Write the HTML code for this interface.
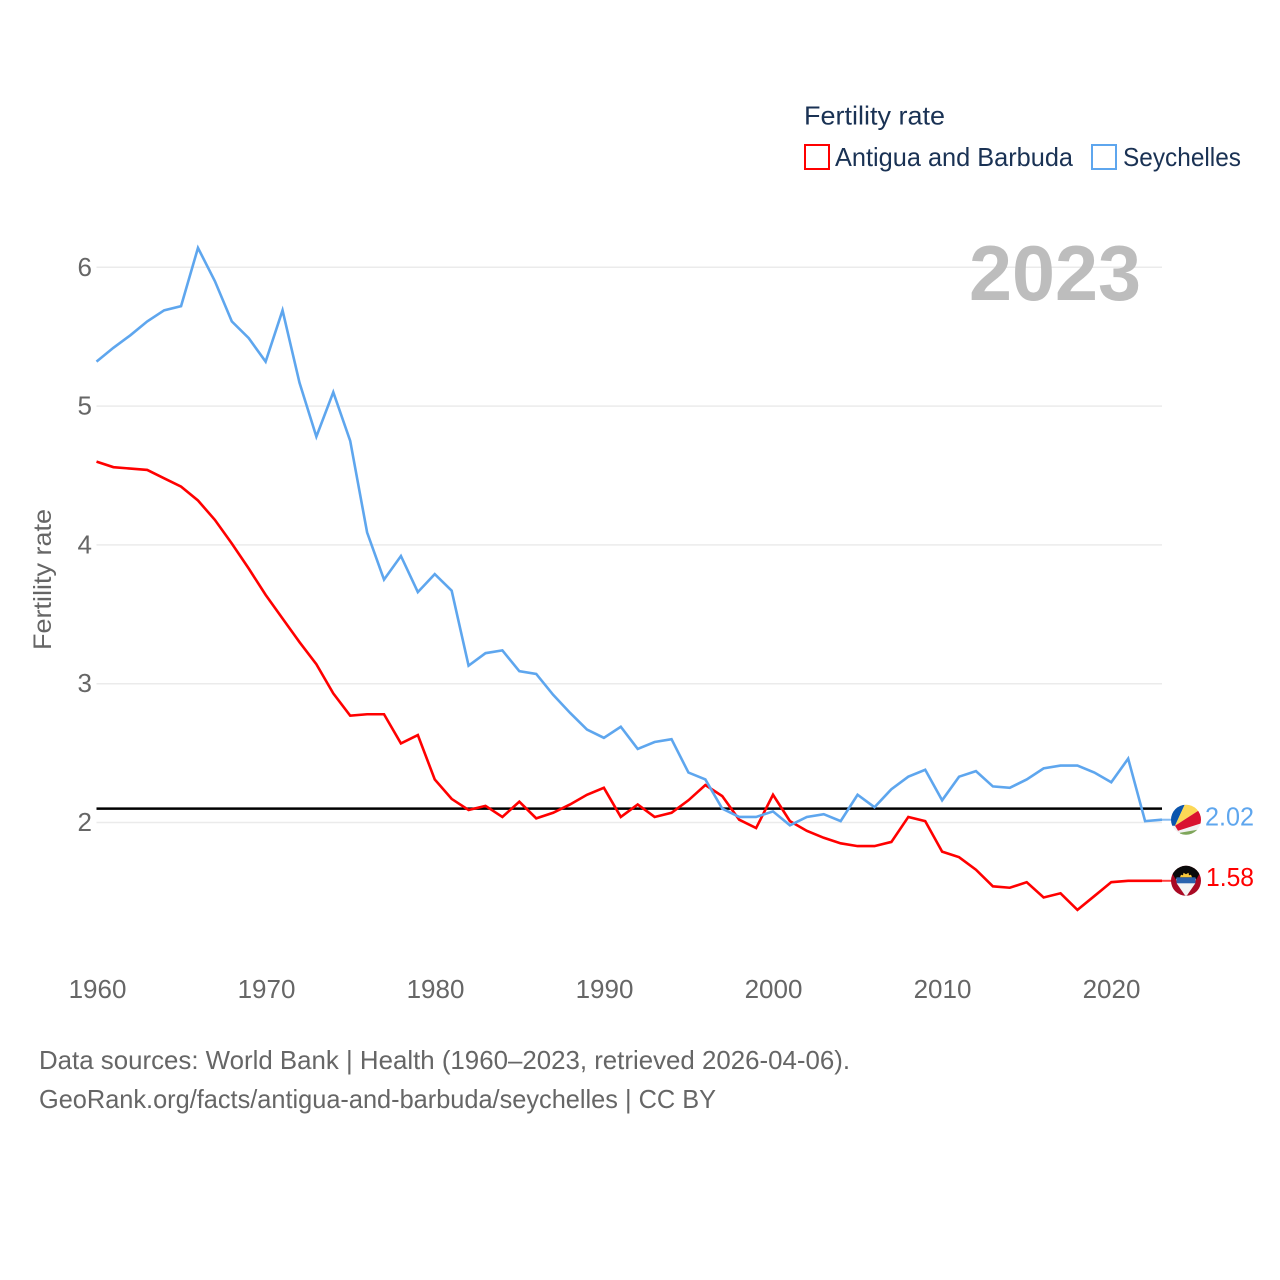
<!DOCTYPE html>
<html lang="en">
<head>
<meta charset="utf-8">
<title>Fertility rate: Antigua and Barbuda vs Seychelles</title>
<style>
html,body{margin:0;padding:0;background:#fff}
svg{display:block;font-family:"Liberation Sans",sans-serif}
</style>
</head>
<body>
<svg id="chart" width="1280" height="1280" viewBox="0 0 1280 1280" xmlns="http://www.w3.org/2000/svg">
  <defs>
    <clipPath id="flag-clip"><circle cx="0" cy="0" r="15"></circle></clipPath>
  </defs>
  <rect x="0" y="0" width="1280" height="1280" fill="#fff"></rect>

  <g id="grid"></g>
  <g id="ytick-labels"></g>
  <g id="xtick-labels"></g>

  <text transform="translate(51,579.5) rotate(-90)" text-anchor="middle" font-size="25" fill="#666" textLength="141" lengthAdjust="spacingAndGlyphs">Fertility rate</text>

  <text x="969" y="300" font-size="78" font-weight="700" fill="#bdbdbd" textLength="172" lengthAdjust="spacingAndGlyphs">2023</text>

  <g>
    <text x="804" y="124.5" font-size="26" fill="#1a3254" textLength="141" lengthAdjust="spacingAndGlyphs">Fertility rate</text>
    <g>
      <rect x="805" y="145" width="24" height="24" fill="#fff" stroke="#ff0000" stroke-width="2"></rect>
      <text x="835" y="166" font-size="26" fill="#1a3254" textLength="238" lengthAdjust="spacingAndGlyphs">Antigua and Barbuda</text>
    </g>
    <g>
      <rect x="1092" y="145" width="24" height="24" fill="#fff" stroke="#5ea6ee" stroke-width="2"></rect>
      <text x="1123" y="166" font-size="26" fill="#1a3254" textLength="118" lengthAdjust="spacingAndGlyphs">Seychelles</text>
    </g>
  </g>

  <line id="refline" stroke="#000" stroke-width="2.5"></line>

  <polyline id="line-antigua" fill="none" stroke="#ff0000" stroke-width="2.6" stroke-linejoin="miter"></polyline>
  <polyline id="line-seychelles" fill="none" stroke="#5ea6ee" stroke-width="2.6" stroke-linejoin="miter"></polyline>

  <line id="conn-seychelles" stroke="#5ea6ee" stroke-width="2" opacity="0.75"></line>
  <line id="conn-antigua" stroke="#ff0000" stroke-width="2" opacity="0.75"></line>

  <g id="flag-seychelles">
    <g clip-path="url(#flag-clip)">
      <rect x="-16" y="-16" width="32" height="32" fill="#f1f1f1"></rect>
      <polygon points="-11,6 -20,6 -20,-20 1,-20" fill="#0b55ad"></polygon>
      <polygon points="-11,6 1,-20 20,-20 20,-14" fill="#fcd856"></polygon>
      <polygon points="-11,6 20,-14 20,2 -8,11" fill="#d9122f"></polygon>
      <polygon points="-6,13 20,8.5 20,20 -6,20" fill="#7ea65a"></polygon>
    </g>
  </g>

  <g id="flag-antigua">
    <g clip-path="url(#flag-clip)">
      <rect x="-16" y="-16" width="32" height="32" fill="#a90a24"></rect>
      <polygon points="-20,-18 20,-18 0,16" fill="#0a0a0a"></polygon>
      <polygon points="-10,-2 10,-2 9,3 0,16 -9,3" fill="#f4f4f4"></polygon>
      <rect x="-9.5" y="-3.5" width="19" height="6" fill="#2a62ad"></rect>
      <path d="M-6,-3.5 L-5,-6 L-3,-5.5 L-2.5,-8 L0,-6.5 L2.5,-8 L3,-5.5 L5,-6 L6,-3.5 Z" fill="#f7c73c"></path>
    </g>
  </g>

  <text id="value-seychelles" x="1205" font-size="26" fill="#5ea6ee" textLength="49" lengthAdjust="spacingAndGlyphs"></text>
  <text id="value-antigua" x="1206" font-size="26" fill="#ff0000" textLength="48" lengthAdjust="spacingAndGlyphs"></text>

  <g>
    <text x="39" y="1069" font-size="26" fill="#666" textLength="811" lengthAdjust="spacingAndGlyphs">Data sources: World Bank | Health (1960–2023, retrieved 2026-04-06).</text>
    <text x="39" y="1108" font-size="26" fill="#666" textLength="677" lengthAdjust="spacingAndGlyphs">GeoRank.org/facts/antigua-and-barbuda/seychelles | CC BY</text>
  </g>
</svg>

<script>
const startYear = 1960;
const antiguaValues = [4.60,4.56,4.55,4.54,4.48,4.42,4.32,4.18,4.01,3.83,3.64,3.47,3.30,3.14,2.93,2.77,2.78,2.78,2.57,2.63,2.31,2.17,2.09,2.12,2.04,2.15,2.03,2.07,2.13,2.20,2.25,2.04,2.13,2.04,2.07,2.16,2.27,2.19,2.02,1.96,2.20,2.01,1.94,1.89,1.85,1.83,1.83,1.86,2.04,2.01,1.79,1.75,1.66,1.54,1.53,1.57,1.46,1.49,1.37,1.47,1.57,1.58,1.58,1.58];
const seychellesValues = [5.32,5.42,5.51,5.61,5.69,5.72,6.14,5.90,5.61,5.49,5.32,5.69,5.17,4.78,5.10,4.75,4.09,3.75,3.92,3.66,3.79,3.67,3.13,3.22,3.24,3.09,3.07,2.92,2.79,2.67,2.61,2.69,2.53,2.58,2.60,2.36,2.31,2.10,2.04,2.04,2.08,1.98,2.04,2.06,2.01,2.20,2.11,2.24,2.33,2.38,2.16,2.33,2.37,2.26,2.25,2.31,2.39,2.41,2.41,2.36,2.29,2.46,2.01,2.02];
const referenceValue = 2.1;
const yTicks = [2,3,4,5,6];
const xTicks = [1960,1970,1980,1990,2000,2010,2020];

const SVG_NS = 'http://www.w3.org/2000/svg';
const xAxis = function (year) { return 96.5 + (year - 1960) * (1162 - 96.5) / 63; };
const xTickAxis = function (year) { return 97.5 + (year - 1960) * 16.9; };
const yAxis = function (value) { return 822.5 - (value - 2) * 138.8; };
const toPoints = function (values) {
  return values.map(function (v, i) { return xAxis(startYear + i).toFixed(2) + ',' + yAxis(v).toFixed(2); }).join(' ');
};

const grid = document.getElementById('grid');
const yLabels = document.getElementById('ytick-labels');
yTicks.forEach(function (t) {
  const line = document.createElementNS(SVG_NS, 'line');
  
  
  line.setAttribute('x1', 96.5);
  line.setAttribute('x2', 1162);
  line.setAttribute('y1', yAxis(t));
  line.setAttribute('y2', yAxis(t));
  line.setAttribute('stroke', '#ebebeb');
  line.setAttribute('stroke-width', '1.5');
  grid.appendChild(line);
  const label = document.createElementNS(SVG_NS, 'text');
  
  
  label.setAttribute('x', 92);
  label.setAttribute('y', yAxis(t) + 8.5);
  label.setAttribute('text-anchor', 'end');
  label.setAttribute('font-size', '26');
  label.setAttribute('fill', '#666');
  label.textContent = String(t);
  yLabels.appendChild(label);
});

const xLabels = document.getElementById('xtick-labels');
xTicks.forEach(function (t) {
  const label = document.createElementNS(SVG_NS, 'text');
  
  
  label.setAttribute('x', xTickAxis(t));
  label.setAttribute('y', 998);
  label.setAttribute('text-anchor', 'middle');
  label.setAttribute('font-size', '26');
  label.setAttribute('fill', '#666');
  label.textContent = String(t);
  xLabels.appendChild(label);
});

const ref = document.getElementById('refline');
ref.setAttribute('x1', 96.5);
ref.setAttribute('x2', 1162);
ref.setAttribute('y1', yAxis(referenceValue));
ref.setAttribute('y2', yAxis(referenceValue));

document.getElementById('line-antigua').setAttribute('points', toPoints(antiguaValues));
document.getElementById('line-seychelles').setAttribute('points', toPoints(seychellesValues));

const finishSeries = function (values, key, labelOffset) {
  const v = values[values.length - 1];
  const y = yAxis(v);
  const conn = document.getElementById('conn-' + key);
  conn.setAttribute('x1', 1162);
  conn.setAttribute('x2', 1172);
  conn.setAttribute('y1', y);
  conn.setAttribute('y2', y);
  document.getElementById('flag-' + key).setAttribute('transform', 'translate(1186,' + y + ')');
  const label = document.getElementById('value-' + key);
  label.setAttribute('y', y + labelOffset);
  label.textContent = v.toFixed(2);
};
finishSeries(seychellesValues, 'seychelles', 6);
finishSeries(antiguaValues, 'antigua', 5);
</script>
</body>
</html>
